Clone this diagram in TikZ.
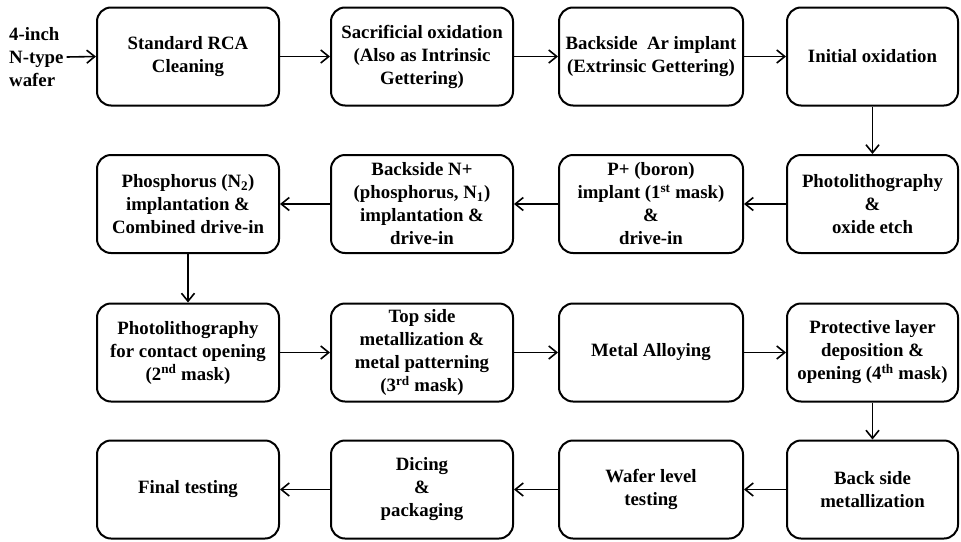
\documentclass[tikz,border=0pt]{standalone}
\usepackage{fontspec}
\setmainfont{Liberation Serif}
\usetikzlibrary{arrows.meta,positioning}

\begin{document}
\begin{tikzpicture}[x=1pt,y=-1pt,
    procbox/.style={draw,line width=2pt,rounded corners=14pt,align=center,
        minimum width=182pt,minimum height=98pt,inner sep=1pt,
        font=\fontsize{18.8}{23}\selectfont\bfseries},
    flow/.style={-{Straight Barb[length=8pt,width=13pt]},line width=1.6pt}]

    \useasboundingbox (0,0) rectangle (961,541);

    % Input wafer
    \node[font=\fontsize{18.8}{23}\selectfont\bfseries,align=left,anchor=west,
        inner ysep=2pt,inner xsep=3pt] (wafer) at (6,57) {4-inch\\N-type\\wafer};

    % Row 1 (left to right)
    \node[procbox] (rca) at (188,56.5) {Standard RCA\\Cleaning};
    \node[procbox] (sacox) at (422,56.5) {Sacrificial oxidation\\(Also as Intrinsic\\Gettering)};
    \node[procbox,minimum width=184pt] (arimp) at (651,56.5) {Backside~~Ar implant\\(Extrinsic Gettering)};
    \node[procbox,minimum width=171pt] (initox) at (872.5,56.5) {Initial oxidation};

    % Row 2 (right to left)
    \node[procbox,minimum width=171pt] (photoa) at (872.5,204) {Photolithography\\\&\\oxide etch};
    \node[procbox,minimum width=184pt] (boron) at (651,204) {P+ (boron)\\implant (1\textsuperscript{st} mask)\\\&\\drive-in};
    \node[procbox] (backn) at (422,204) {Backside N+\\(phosphorus, N\textsubscript{1})\\implantation \&\\drive-in};
    \node[procbox] (phos) at (188,204) {Phosphorus (N\textsubscript{2})\\implantation \&\\Combined drive-in};

    % Row 3 (left to right)
    \node[procbox] (photob) at (188,352.5) {Photolithography\\for contact opening\\(2\textsuperscript{nd} mask)};
    \node[procbox] (topmet) at (422,352.5) {Top side\\metallization \&\\metal patterning\\(3\textsuperscript{rd} mask)};
    \node[procbox,minimum width=184pt] (alloy) at (651,352.5) {Metal Alloying};
    \node[procbox,minimum width=171pt] (protect) at (872.5,352.5) {Protective layer\\deposition \&\\opening (4\textsuperscript{th} mask)};

    % Row 4 (right to left)
    \node[procbox,minimum width=171pt] (backmet) at (872.5,489.5) {Back side\\metallization};
    \node[procbox,minimum width=184pt] (wtest) at (651,489.5) {Wafer level\\testing};
    \node[procbox] (dicing) at (422,489.5) {Dicing\\\&\\packaging};
    \node[procbox] (final) at (188,489.5) {Final testing};

    % Flow arrows
    \draw[flow] (wafer.east) -- (rca.west);
    \draw[flow] (rca) -- (sacox);
    \draw[flow] (sacox) -- (arimp);
    \draw[flow] (arimp) -- (initox);
    \draw[flow] (initox) -- (photoa);
    \draw[flow] (photoa) -- (boron);
    \draw[flow] (boron) -- (backn);
    \draw[flow] (backn) -- (phos);
    \draw[flow] (phos) -- (photob);
    \draw[flow] (photob) -- (topmet);
    \draw[flow] (topmet) -- (alloy);
    \draw[flow] (alloy) -- (protect);
    \draw[flow] (protect) -- (backmet);
    \draw[flow] (backmet) -- (wtest);
    \draw[flow] (wtest) -- (dicing);
    \draw[flow] (dicing) -- (final);
\end{tikzpicture}
\end{document}
